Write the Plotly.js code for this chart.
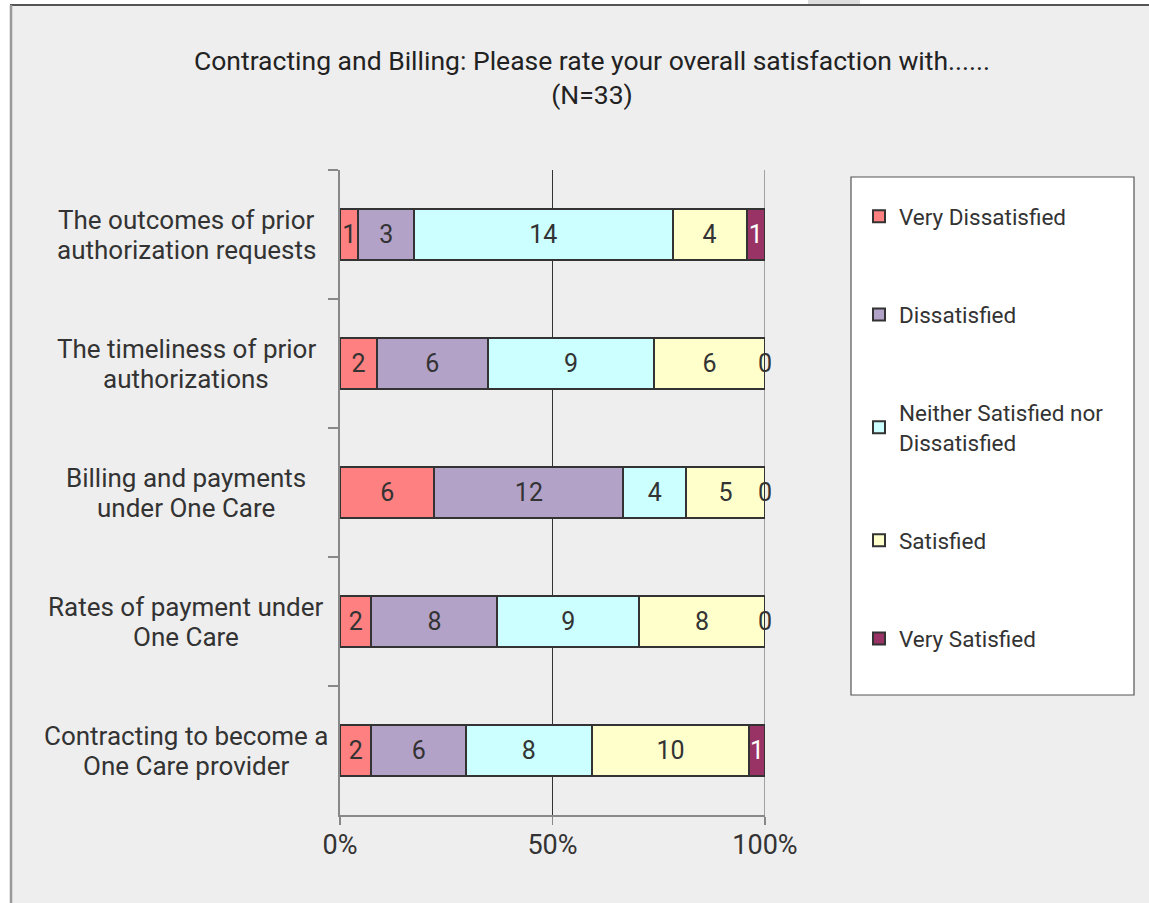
<!DOCTYPE html>
<html><head><meta charset="utf-8">
<script src="https://cdn.plot.ly/plotly-3.0.1.min.js"></script>
<style>html,body{margin:0;padding:0;background:#fff}</style></head>
<body><div id="chart" style="width:1149px;height:903px"></div>
<script>
const categories = [
  "The outcomes of prior<br>authorization requests",
  "The timeliness of prior<br>authorizations",
  "Billing and payments<br>under One Care",
  "Rates of payment under<br>One Care",
  "Contracting to become a<br>One Care provider"
];
const seriesNames = ["Very Dissatisfied", "Dissatisfied", "Neither Satisfied nor<br>Dissatisfied", "Satisfied", "Very Satisfied"];
const veryDissatisfied = [1, 2, 6, 2, 2];
const dissatisfied = [3, 6, 12, 8, 6];
const neither = [14, 9, 4, 9, 8];
const satisfied = [4, 6, 5, 8, 10];
const verySatisfied = [1, 0, 0, 0, 1];
const xTickVals = [0, 50, 100];
const xTickText = ["0%", "50%", "100%"];
const titleText = "Contracting and Billing: Please rate your overall satisfaction with......<br>(N=33)";

const series = [veryDissatisfied, dissatisfied, neither, satisfied, verySatisfied];
const colors = ["#FF8080", "#B3A2C7", "#CCFFFF", "#FFFFCC", "#993366"];
const textColors = ["#333333", "#333333", "#333333", "#333333", "#ffffff"];
const FONT = "Roboto, 'Liberation Sans', Arial, sans-serif";

// plot-area pixel geometry
const L = 340, R = 765, T = 170, B = 815, W = 1149, H = 903;
const px = p => (p - L) / (R - L);
const py = p => (B - p) / (B - T);

const traces = series.map((vals, i) => ({
  type: 'bar', orientation: 'h',
  name: seriesNames[i], legendgroup: 'g' + i,
  y: categories, x: vals,
  text: vals.map(v => v === 0 ? '' : String(v)),
  textposition: 'inside', insidetextanchor: 'middle', constraintext: 'none',
  textfont: {family: FONT, size: 25, color: textColors[i]},
  marker: {color: colors[i], line: {color: '#333333', width: 2}},
  hoverinfo: 'skip'
}));

const annotations = [];
// category labels (centered, two lines with tight spacing)
categories.forEach(c => {
  const lines = c.split('<br>');
  lines.forEach((ln, k) => annotations.push({
    xref: 'paper', yref: 'y', x: px(186), y: c, text: ln, showarrow: false,
    xanchor: 'center', yanchor: 'middle', align: 'center',
    yshift: (lines.length - 1) * 15 - k * 30,
    font: {family: FONT, size: 26, color: '#333333'}
  }));
});
// zero-value labels at their (zero-width) bar positions
categories.forEach((c, j) => {
  const total = series.reduce((s, arr) => s + arr[j], 0);
  let cum = 0;
  series.forEach((arr, i) => {
    cum += arr[j];
    if (arr[j] === 0) annotations.push({
      xref: 'x', yref: 'y', x: 100 * cum / total, y: c, text: '0', showarrow: false,
      xanchor: 'center', yanchor: 'middle',
      font: {family: FONT, size: 25, color: '#333333'}
    });
  });
});

const shapes = [
  {type: 'rect', xref: 'paper', yref: 'paper', x0: px(10), x1: px(1170), y0: py(5), y1: py(920),
   fillcolor: '#EEEEEE', line: {width: 0}, layer: 'below'},
  {type: 'line', xref: 'paper', yref: 'paper', x0: px(10), x1: px(1170), y0: py(5), y1: py(5),
   line: {color: '#555555', width: 2}, layer: 'below'},
  {type: 'line', xref: 'paper', yref: 'paper', x0: px(11), x1: px(11), y0: py(5), y1: py(920),
   line: {color: '#999999', width: 2.5}, layer: 'below'},
  {type: 'rect', xref: 'paper', yref: 'paper', x0: px(808), x1: px(860), y0: py(0), y1: py(4),
   fillcolor: '#DDDDDD', line: {width: 0}, layer: 'below'},
  {type: 'rect', xref: 'paper', yref: 'paper', x0: px(851), x1: px(1134), y0: py(177), y1: py(695),
   fillcolor: '#FFFFFF', line: {color: '#555555', width: 1.2}, layer: 'below'},
  {type: 'line', xref: 'x', yref: 'paper', x0: 100, x1: 100, y0: 0, y1: 1,
   line: {color: '#888888', width: 1.5}, layer: 'between'}
];

const layout = {
  width: W, height: H,
  margin: {l: L, r: W - R, t: T, b: H - B, pad: 0},
  paper_bgcolor: '#FFFFFF', plot_bgcolor: 'rgba(0,0,0,0)',
  font: {family: FONT, color: '#333333'},
  title: {text: titleText, x: 592 / W, xanchor: 'center', y: 1 - 70 / H, yanchor: 'middle', xref: 'container', yref: 'container',
          font: {family: FONT, size: 26.5, color: '#222222'}},
  barmode: 'stack', barnorm: 'percent', bargap: 0.6,
  xaxis: {range: [0, 100], tickvals: xTickVals, ticktext: xTickText, showgrid: true, gridcolor: '#333333', gridwidth: 1,
          zeroline: false, showline: true, linecolor: '#888888', linewidth: 1.5, ticks: 'outside', ticklen: 8,
          tickcolor: '#888888', tickwidth: 1.5, ticklabelstandoff: -3, tickfont: {family: FONT, size: 27, color: '#333333'}, fixedrange: true},
  yaxis: {type: 'category', autorange: 'reversed', showticklabels: false, ticks: 'outside', tickson: 'boundaries', ticklen: 10,
          tickcolor: '#888888', tickwidth: 1.5, showline: true, linecolor: '#888888', linewidth: 2, showgrid: false, zeroline: false, fixedrange: true},
  legend: {x: px(859), y: py(195), xanchor: 'left', yanchor: 'top', bgcolor: 'rgba(0,0,0,0)', borderwidth: 0,
           traceorder: 'grouped', tracegroupgap: 66, font: {family: FONT, size: 22.5, color: '#333333'}},
  showlegend: true,
  annotations: annotations, shapes: shapes
};

Plotly.newPlot('chart', traces, layout, {displayModeBar: false, staticPlot: true});
</script>
</body></html>
